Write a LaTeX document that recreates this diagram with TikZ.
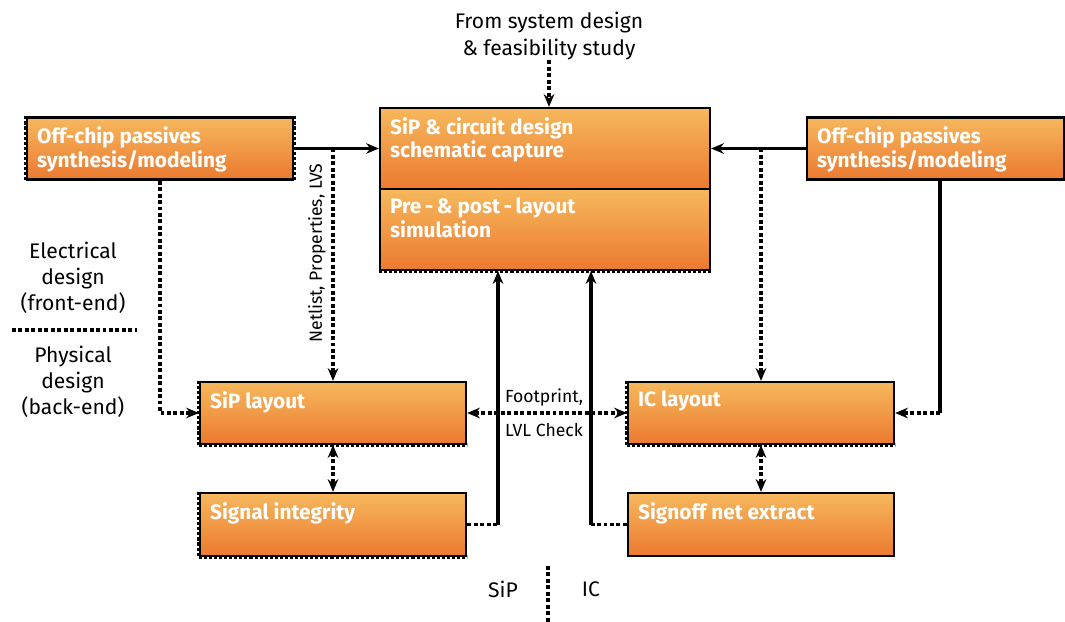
\documentclass[tikz,border=0pt]{standalone}
\usepackage{fontspec}
\setmainfont{Fira Sans}
\usetikzlibrary{arrows.meta,positioning}
\definecolor{boxtop}{RGB}{246,184,92}
\definecolor{boxbot}{RGB}{236,122,48}
\tikzset{
	box/.style={draw, line width=1.6pt, top color=boxtop, bottom color=boxbot,
		inner sep=0pt, minimum width=6.65cm, minimum height=1.55cm},
	boxtext/.style={anchor=north west, xshift=0.275cm, yshift=-0.25cm, text=white,
		font=\bfseries\fontsize{14.8}{17}\selectfont, align=left, inner sep=0pt},
	flow/.style={line width=2.6pt, -{Stealth[length=9pt,width=7.5pt]}},
	dflow/.style={flow, dash pattern=on 2.8pt off 1.8pt},
	dline/.style={line width=2.6pt, dash pattern=on 2.8pt off 1.8pt},
	sidedash/.style={line width=2.4pt, dash pattern=on 2.2pt off 1.4pt},
	lbl/.style={font=\fontsize{15}{19.5}\selectfont, align=center, inner sep=0pt},
	smalllbl/.style={font=\fontsize{12.5}{15}\selectfont, inner sep=0pt}
}
\begin{document}
\begin{tikzpicture}[x=0.025cm,y=-0.025cm]
	\useasboundingbox (0,0) rectangle (1065,622);
	% boxes
	\node[box, label={[boxtext]north west:Off-chip passives\\synthesis/modeling}] (offL) at (160,148.5) {};
	\node[box, minimum width=8.25cm, minimum height=2.025cm,
		label={[boxtext]north west:SiP \& circuit design\\schematic capture}] (sipc) at (545,148.5) {};
	\node[box, minimum width=8.25cm, minimum height=2.025cm,
		label={[boxtext]north west:Pre\,-\,\& post\,-\,layout\\simulation}] (sims) at (545,229.5) {};
	\node[box, minimum width=6.425cm, label={[boxtext]north west:Off-chip passives\\synthesis/modeling}] (offR) at (935.5,148.5) {};
	\node[box, label={[boxtext]north west:SiP layout}] (sipl) at (333,413) {};
	\node[box, minimum height=1.575cm, label={[boxtext]north west:Signal integrity}] (sigi) at (333,524.5) {};
	\node[box, label={[boxtext]north west:IC layout}] (icl) at (761,413) {};
	\node[box, minimum height=1.575cm, label={[boxtext]north west:Signoff net extract}] (sgno) at (761,524.5) {};
	% dashed sides
	\foreach \b/\s/\e in {offL/north west/south west,offL/north east/south east,
		sims/south west/south east,sipl/north west/south west,sipl/south west/south east,
		sigi/north west/south west,sigi/south west/south east,
		icl/north west/south west,icl/south west/south east}
	\draw[sidedash] (\b.\s)--(\b.\e);
	% texts
	\node[lbl] (src) at (549,36) {From system design\\\& feasibility study};
	\node[lbl, font=\fontsize{15}{18.5}\selectfont] (elec) at (73,278) {Electrical\\design\\(front-end)};
	\node[lbl, font=\fontsize{15}{18.5}\selectfont] (phys) at (73,382) {Physical\\design\\(back-end)};
	\node[smalllbl, rotate=90] (nlp) at (317,253) {Netlist, Properties, LVS};
	\node[smalllbl] (fp) at (544,398) {Footprint,};
	\node[smalllbl] (lvl) at (544,430) {LVL Check};
	\node[lbl] (sip) at (503,589) {SiP};
	\node[lbl] (ic) at (591,589) {IC};
	\coordinate (sepl) at (12,330);
	\coordinate (sepr) at (137,330);
	\coordinate (bt) at (548,566);
	\coordinate (bb) at (548,622);
	\coordinate (rc) at (940,413);
	\coordinate (sj) at (498,524.5);
	\coordinate (ej) at (591,524.5);
	% connectors
	\draw[dflow] (src.south) -- (src.south |- sipc.north);
	\draw[flow] (offL) -- (sipc);
	\draw[flow] (offR) -- (sipc);
	\draw[dflow] (sipl.north |- offL.east) -- (sipl.north);
	\draw[dflow] (icl.north |- offR.west) -- (icl.north);
	\draw[dflow] (offL.south) |- (sipl.west);
	\draw[line width=2.6pt] (offR.south -| rc) -- (rc);
	\draw[dflow] (rc) -- (icl.east);
	\draw[dflow, {Stealth[length=9pt,width=7.5pt]}-{Stealth[length=9pt,width=7.5pt]}] (sipl) -- (icl);
	\draw[dflow, {Stealth[length=9pt,width=7.5pt]}-{Stealth[length=9pt,width=7.5pt]}] (sipl) -- (sigi);
	\draw[dflow, {Stealth[length=9pt,width=7.5pt]}-{Stealth[length=9pt,width=7.5pt]}] (icl) -- (sgno);
	\draw[dline] (sigi) -- (sj);
	\draw[flow] (sj) -- (sj |- sims.south);
	\draw[dline] (sgno) -- (ej);
	\draw[flow] (ej) -- (ej |- sims.south);
	\draw[dline] (sepl) -- (sepr);
	\draw[dline] (bt) -- (bb);
\end{tikzpicture}
\end{document}
